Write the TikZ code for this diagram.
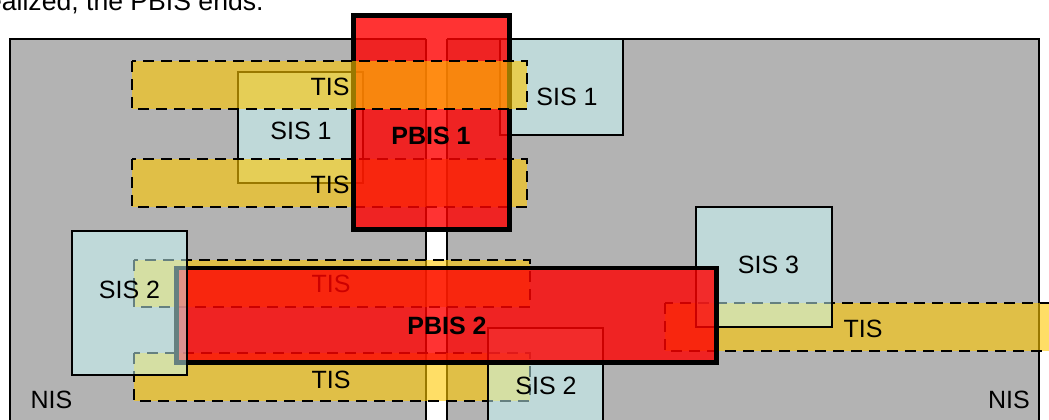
\documentclass[tikz,border=0pt]{standalone}
\usepackage{fontspec}
\setmainfont{Liberation Sans}
\definecolor{nisgray}{HTML}{B3B3B3}
\definecolor{siscyan}{HTML}{CBFFFF}
\definecolor{tisyellow}{RGB}{255,200,0}
\definecolor{pbisred}{HTML}{FF0000}
\tikzset{
  nisbox/.style={fill=nisgray,draw=black,line width=0.8pt},
  sisbox/.style={fill=siscyan,fill opacity=0.5,draw=black,line width=0.8pt},
  tisbox/.style={fill=tisyellow,fill opacity=0.6,draw=black,line width=1.2pt,dash pattern=on 5.5pt off 3.5pt},
  pbisbox/.style={fill=pbisred,fill opacity=0.8,draw=black,line width=2.25pt},
  lbl/.style={inner sep=0pt,font=\fontsize{12.5}{15}\selectfont},
}
\begin{document}
\begin{tikzpicture}[x=0.5pt,y=-0.5pt]
  \useasboundingbox (0,0) rectangle (1049,419);
  \clip (0,0) rectangle (1049,419);
  \node[lbl,font=\fontsize{13.3}{16}\selectfont,anchor=base east] (note) at (264,10.5) {realized, the PBIS ends.};
  \draw[nisbox] (10,39) rectangle (1039,440);
  \fill[white] (426,38) rectangle (447,440);
  \draw[line width=0.8pt] (426,39) -- (426,440) (447,39) -- (447,440);
  \node[lbl] (nisL) at (51.5,400) {NIS};
  \node[lbl] (nisR) at (1009,400) {NIS};
  \draw[sisbox] (238,72) rectangle (363,183);
  \node[lbl] (sisA) at (301,131) {SIS 1};
  \draw[sisbox] (500,39) rectangle (623,135);
  \node[lbl] (sisB) at (567,97) {SIS 1};
  \draw[tisbox] (132,159) rectangle (527,207);
  \node[lbl] (tisB) at (330,185) {TIS};
  \draw[tisbox] (134,260) rectangle (530,307);
  \node[lbl] (tisC) at (331,284) {TIS};
  \draw[tisbox] (134,353) rectangle (530,401);
  \node[lbl] (tisD) at (331,380) {TIS};
  \draw[tisbox] (665,303) rectangle (1080,351);
  \node[lbl] (tisE) at (863,329) {TIS};
  \draw[sisbox] (488,328) rectangle (603,440);
  \node[lbl] (sisD) at (546,385.5) {SIS 2};
  \draw[sisbox] (696,207) rectangle (832,327);
  \node[lbl] (sisE) at (768.5,265) {SIS 3};
  \draw[pbisbox] (353.5,15.5) rectangle (509.5,229.5);
  \node[lbl,font=\fontsize{12.5}{15}\selectfont\bfseries] (pbisA) at (431,136) {PBIS 1};
  \draw[pbisbox] (176.5,268) rectangle (716.5,362.5);
  \node[lbl,font=\fontsize{12.5}{15}\selectfont\bfseries] (pbisB) at (447,326) {PBIS 2};
  \draw[tisbox] (132,61) rectangle (527,109);
  \node[lbl] (tisA) at (330,87) {TIS};
  \draw[sisbox] (72,231) rectangle (187,375);
  \node[lbl] (sisC) at (129.5,289.5) {SIS 2};
\end{tikzpicture}
\end{document}
